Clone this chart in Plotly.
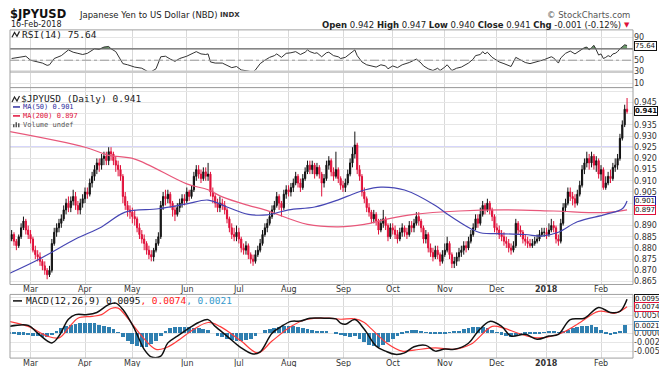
import plotly.graph_objects as go
import pandas as pd

# ---------------- data ----------------
dates = pd.bdate_range('2017-02-16', '2018-02-16')
month_labels = ['Mar', 'Apr', 'May', 'Jun', 'Jul', 'Aug', 'Sep', 'Oct', 'Nov', 'Dec', '2018', 'Feb']

first_open = 0.883
close = [
    0.884, 0.886, 0.883, 0.881, 0.885, 0.889, 0.892, 0.888, 0.886, 0.884,
    0.879, 0.877, 0.876, 0.874, 0.872, 0.870, 0.868, 0.870, 0.882, 0.887,
    0.889, 0.891, 0.893, 0.897, 0.900, 0.898, 0.901, 0.903, 0.899, 0.897,
    0.900, 0.902, 0.905, 0.904, 0.909, 0.912, 0.915, 0.918, 0.917, 0.920,
    0.921, 0.919, 0.923, 0.922, 0.919, 0.917, 0.915, 0.912, 0.903, 0.899,
    0.897, 0.896, 0.894, 0.893, 0.889, 0.886, 0.884, 0.882, 0.879, 0.877,
    0.876, 0.879, 0.882, 0.885, 0.899, 0.903, 0.902, 0.904, 0.900, 0.897,
    0.895, 0.898, 0.900, 0.902, 0.901, 0.905, 0.903, 0.906, 0.912, 0.915,
    0.913, 0.911, 0.914, 0.912, 0.913, 0.905, 0.903, 0.900, 0.898, 0.900,
    0.899, 0.897, 0.893, 0.889, 0.886, 0.885, 0.887, 0.884, 0.880, 0.879,
    0.881, 0.877, 0.875, 0.874, 0.877, 0.879, 0.882, 0.886, 0.889, 0.891,
    0.894, 0.897, 0.899, 0.903, 0.900, 0.898, 0.904, 0.906, 0.905, 0.907,
    0.909, 0.912, 0.909, 0.907, 0.911, 0.914, 0.917, 0.915, 0.917, 0.913,
    0.916, 0.913, 0.909, 0.911, 0.917, 0.919, 0.914, 0.912, 0.915, 0.911,
    0.908, 0.907, 0.909, 0.913, 0.918, 0.922, 0.926, 0.915, 0.912, 0.905,
    0.902, 0.898, 0.896, 0.893, 0.895, 0.892, 0.888, 0.891, 0.893, 0.890,
    0.885, 0.889, 0.888, 0.886, 0.884, 0.887, 0.889, 0.887, 0.886, 0.890,
    0.889, 0.891, 0.894, 0.892, 0.889, 0.884, 0.886, 0.880, 0.878, 0.876,
    0.879, 0.877, 0.874, 0.877, 0.879, 0.882, 0.877, 0.873, 0.874, 0.876,
    0.878, 0.879, 0.881, 0.880, 0.883, 0.886, 0.889, 0.893, 0.891, 0.895,
    0.899, 0.897, 0.900, 0.897, 0.894, 0.889, 0.888, 0.886, 0.885, 0.883,
    0.882, 0.880, 0.879, 0.881, 0.891, 0.888, 0.887, 0.884, 0.883, 0.882,
    0.881, 0.882, 0.883, 0.884, 0.886, 0.887, 0.887, 0.886, 0.888, 0.890,
    0.889, 0.884, 0.883, 0.891, 0.898, 0.900, 0.905, 0.903, 0.902, 0.900,
    0.904, 0.908, 0.915, 0.918, 0.920, 0.918, 0.921, 0.917, 0.919, 0.913,
    0.915, 0.907, 0.909, 0.912, 0.911, 0.916, 0.917, 0.920, 0.929, 0.935,
    0.942, 0.941]
high = [
    0.886, 0.888, 0.887, 0.884, 0.886, 0.891, 0.894, 0.893, 0.890, 0.888,
    0.885, 0.881, 0.879, 0.878, 0.875, 0.874, 0.871, 0.872, 0.884, 0.889,
    0.891, 0.893, 0.895, 0.899, 0.902, 0.903, 0.903, 0.906, 0.905, 0.901,
    0.902, 0.904, 0.907, 0.907, 0.911, 0.914, 0.917, 0.920, 0.920, 0.922,
    0.923, 0.923, 0.925, 0.925, 0.923, 0.921, 0.919, 0.917, 0.913, 0.905,
    0.901, 0.899, 0.898, 0.897, 0.894, 0.891, 0.888, 0.886, 0.883, 0.881,
    0.879, 0.880, 0.884, 0.887, 0.901, 0.905, 0.906, 0.906, 0.905, 0.901,
    0.899, 0.900, 0.902, 0.904, 0.904, 0.907, 0.906, 0.908, 0.914, 0.917,
    0.917, 0.915, 0.916, 0.916, 0.918, 0.914, 0.907, 0.904, 0.902, 0.903,
    0.902, 0.901, 0.898, 0.894, 0.891, 0.889, 0.890, 0.889, 0.885, 0.882,
    0.883, 0.882, 0.878, 0.877, 0.879, 0.881, 0.884, 0.888, 0.891, 0.893,
    0.896, 0.899, 0.901, 0.905, 0.904, 0.901, 0.906, 0.908, 0.908, 0.909,
    0.911, 0.914, 0.913, 0.911, 0.913, 0.916, 0.919, 0.919, 0.919, 0.918,
    0.918, 0.917, 0.914, 0.913, 0.919, 0.921, 0.920, 0.916, 0.923, 0.916,
    0.912, 0.910, 0.911, 0.915, 0.920, 0.925, 0.932, 0.927, 0.917, 0.913,
    0.907, 0.903, 0.900, 0.897, 0.897, 0.896, 0.893, 0.893, 0.897, 0.894,
    0.891, 0.891, 0.891, 0.890, 0.888, 0.889, 0.891, 0.890, 0.889, 0.892,
    0.892, 0.893, 0.896, 0.896, 0.893, 0.890, 0.888, 0.887, 0.882, 0.880,
    0.881, 0.881, 0.878, 0.879, 0.882, 0.885, 0.883, 0.878, 0.876, 0.878,
    0.880, 0.881, 0.883, 0.883, 0.885, 0.888, 0.891, 0.895, 0.895, 0.898,
    0.901, 0.900, 0.902, 0.901, 0.898, 0.895, 0.891, 0.890, 0.888, 0.887,
    0.885, 0.884, 0.882, 0.883, 0.893, 0.892, 0.890, 0.888, 0.886, 0.885,
    0.884, 0.884, 0.885, 0.886, 0.888, 0.889, 0.889, 0.889, 0.891, 0.893,
    0.892, 0.890, 0.886, 0.893, 0.900, 0.902, 0.907, 0.907, 0.905, 0.904,
    0.906, 0.910, 0.917, 0.920, 0.923, 0.922, 0.923, 0.922, 0.921, 0.920,
    0.917, 0.916, 0.912, 0.914, 0.915, 0.918, 0.920, 0.922, 0.931, 0.937,
    0.944, 0.947]
low = [
    0.881, 0.883, 0.881, 0.879, 0.880, 0.884, 0.888, 0.886, 0.884, 0.882,
    0.878, 0.875, 0.874, 0.872, 0.870, 0.868, 0.866, 0.867, 0.869, 0.881,
    0.885, 0.887, 0.889, 0.892, 0.895, 0.896, 0.896, 0.899, 0.897, 0.895,
    0.895, 0.898, 0.900, 0.902, 0.903, 0.907, 0.910, 0.913, 0.914, 0.915,
    0.917, 0.917, 0.917, 0.919, 0.917, 0.914, 0.912, 0.910, 0.900, 0.897,
    0.894, 0.893, 0.891, 0.890, 0.887, 0.884, 0.882, 0.879, 0.877, 0.875,
    0.874, 0.874, 0.878, 0.881, 0.884, 0.897, 0.899, 0.900, 0.898, 0.894,
    0.892, 0.894, 0.896, 0.898, 0.899, 0.900, 0.901, 0.902, 0.905, 0.910,
    0.911, 0.909, 0.910, 0.910, 0.910, 0.903, 0.900, 0.898, 0.896, 0.896,
    0.897, 0.895, 0.891, 0.887, 0.884, 0.883, 0.883, 0.882, 0.878, 0.877,
    0.877, 0.875, 0.873, 0.872, 0.873, 0.876, 0.878, 0.881, 0.885, 0.887,
    0.890, 0.893, 0.895, 0.898, 0.897, 0.894, 0.897, 0.902, 0.903, 0.903,
    0.905, 0.908, 0.907, 0.905, 0.906, 0.910, 0.913, 0.913, 0.913, 0.911,
    0.912, 0.911, 0.903, 0.907, 0.910, 0.915, 0.912, 0.910, 0.911, 0.909,
    0.906, 0.905, 0.905, 0.908, 0.912, 0.916, 0.920, 0.913, 0.910, 0.903,
    0.900, 0.896, 0.894, 0.891, 0.891, 0.890, 0.886, 0.887, 0.889, 0.888,
    0.883, 0.884, 0.886, 0.884, 0.882, 0.883, 0.885, 0.885, 0.884, 0.885,
    0.887, 0.887, 0.890, 0.890, 0.887, 0.882, 0.882, 0.878, 0.876, 0.874,
    0.875, 0.875, 0.872, 0.873, 0.876, 0.878, 0.875, 0.871, 0.871, 0.872,
    0.874, 0.876, 0.877, 0.878, 0.879, 0.882, 0.885, 0.888, 0.889, 0.890,
    0.894, 0.895, 0.896, 0.895, 0.892, 0.887, 0.886, 0.884, 0.883, 0.881,
    0.880, 0.878, 0.877, 0.878, 0.880, 0.886, 0.885, 0.882, 0.881, 0.880,
    0.880, 0.880, 0.881, 0.882, 0.883, 0.885, 0.885, 0.884, 0.885, 0.887,
    0.887, 0.882, 0.881, 0.882, 0.890, 0.896, 0.899, 0.901, 0.899, 0.898,
    0.899, 0.903, 0.907, 0.913, 0.916, 0.915, 0.916, 0.915, 0.914, 0.911,
    0.910, 0.906, 0.906, 0.908, 0.909, 0.910, 0.914, 0.915, 0.919, 0.928,
    0.934, 0.940]

ma50_idx = [0, 13, 28, 39, 49, 63, 75, 84, 92, 101, 109, 118, 129, 139, 145, 150, 157,
            167, 180, 185, 195, 199, 209, 218, 225, 232, 240, 252, 259, 261]
ma50_val = [0.8686, 0.8752, 0.8840, 0.8894, 0.8960, 0.8975, 0.8997, 0.9014, 0.8983, 0.8950,
            0.8948, 0.8970, 0.8983, 0.9015, 0.9040, 0.9059, 0.9072, 0.9059, 0.8990, 0.8952,
            0.8886, 0.8868, 0.8863, 0.8860, 0.8853, 0.8870, 0.8917, 0.8950, 0.8975, 0.9010]

ma200_idx = [0, 32, 42, 53, 75, 84, 90, 101, 108, 126, 139, 150, 160, 171, 190, 209, 230, 252, 261]
ma200_val = [0.9320, 0.9250, 0.9214, 0.9197, 0.9086, 0.9060, 0.9028, 0.8990, 0.8970, 0.8905,
             0.8894, 0.8905, 0.8930, 0.8950, 0.8965, 0.8970, 0.8965, 0.8958, 0.8970]

resistance_level = 0.925

rsi_idx = [1, 4, 7, 9, 12, 14, 16, 17, 19, 22, 25, 27, 29, 31, 33, 36, 38, 40, 42, 43,
           45, 48, 50, 53, 56, 59, 60, 62, 64, 66, 68, 70, 72, 75, 78, 79, 81, 83, 84, 85,
           87, 90, 92, 94, 96, 98, 101, 103, 104, 106, 108, 110, 112, 113, 115, 117, 119, 121, 123, 125,
           126, 127, 129, 130, 132, 134, 135, 137, 139, 140, 142, 144, 146, 147, 149, 151, 153, 155, 157, 159,
           160, 162, 164, 166, 169, 172, 174, 175, 177, 179, 181, 182, 184, 185, 187, 189, 191, 194, 196, 197,
           199, 200, 201, 202, 204, 207, 209, 211, 212, 214, 216, 218, 220, 222, 224, 226, 229, 230, 232, 233,
           235, 237, 239, 240, 242, 243, 244, 245, 246, 247, 248, 249, 250, 251, 252, 253, 254, 255, 256, 257,
           258, 259, 260, 261]
rsi_val = [53, 55, 57, 50, 47, 45, 41, 42, 53, 58, 68, 64, 62, 60, 62, 70, 69, 73, 74, 70,
           65, 44, 42, 38, 36, 29, 30, 35, 56, 57, 52, 48, 53, 57, 63, 65, 61, 60, 61, 47,
           45, 45, 41, 37, 39, 33, 31, 29, 33, 44, 50, 55, 58, 61, 55, 62, 63, 65, 60, 64,
           68, 65, 62, 63, 56, 63, 64, 58, 56, 53, 55, 62, 68, 58, 47, 42, 40, 38, 42, 40,
           35, 40, 37, 42, 46, 52, 45, 40, 35, 32, 36, 32, 38, 42, 32, 36, 38, 45, 52, 58,
           60, 65, 61, 64, 55, 47, 44, 40, 39, 55, 50, 46, 44, 46, 49, 51, 56, 54, 45, 54,
           62, 66, 61, 64, 70, 72, 73, 68, 72, 76, 68, 59, 61, 53, 55, 58, 56, 61, 62, 65,
           70, 73, 77, 75.64]

macd_idx = [0, 8, 12, 18, 21, 25, 28, 33, 37, 42, 45, 48, 53, 57, 60, 64, 67, 71, 75, 80,
            84, 87, 92, 98, 103, 106, 111, 115, 119, 123, 127, 133, 138, 140, 142, 146, 150, 155, 159, 163,
            167, 171, 176, 180, 184, 188, 194, 198, 203, 208, 212, 218, 223, 228, 232, 237, 243, 249, 254, 258,
            261]
macd_val = [0.0019, 0.0022, 0.0000, -0.0027, -0.0008, 0.0039, 0.0052, 0.0052, 0.0058, 0.0080,
            0.0084, 0.0066, 0.0011, -0.0045, -0.0066, -0.0064, -0.0027, -0.0008, 0.0010, 0.0030,
            0.0038, 0.0019, -0.0008, -0.0041, -0.0058, -0.0052, 0.0000, 0.0019, 0.0033, 0.0034,
            0.0042, 0.0042, 0.0040, 0.0028, 0.0025, 0.0038, 0.0011, -0.0036, -0.0050, -0.0059,
            -0.0055, -0.0038, -0.0034, -0.0050, -0.0044, -0.0045, -0.0028, 0.0005, 0.0033, 0.0019,
            -0.0008, -0.0003, -0.0017, -0.0008, -0.0003, 0.0038, 0.0042, 0.0072, 0.0058, 0.0061,
            0.0095]

signal_idx = [0, 8, 16, 21, 25, 29, 35, 39, 43, 46, 50, 56, 62, 66, 71, 78, 84, 89, 98, 105,
              111, 119, 126, 135, 140, 146, 150, 153, 160, 166, 171, 180, 188, 195, 204, 209, 215, 223, 232, 240,
              249, 256, 261]
signal_val = [0.0033, 0.0019, -0.0008, -0.0013, 0.0014, 0.0042, 0.0047, 0.0052, 0.0069, 0.0070,
              0.0042, -0.0008, -0.0045, -0.0041, -0.0022, 0.0011, 0.0030, 0.0019, -0.0022, -0.0055,
              -0.0022, 0.0019, 0.0039, 0.0042, 0.0039, 0.0040, 0.0030, 0.0012, -0.0030, -0.0050,
              -0.0047, -0.0041, -0.0045, -0.0031, 0.0019, 0.0014, 0.0000, -0.0013, -0.0003, 0.0025,
              0.0061, 0.0056, 0.0074]

hist_idx = list(range(0, 261, 2))
hist_val = [
    -0.0004, -0.0004, -0.0005, -0.0005, -0.0006, -0.0008, -0.0009, -0.0011, -0.0012, -0.0006,
    0.0004, 0.0012, 0.0018, 0.0022, 0.0025, 0.0027, 0.0028, 0.0027, 0.0026, 0.0022,
    0.0018, 0.0015, 0.0010, 0.0002, -0.0012, -0.0022, -0.0030, -0.0036, -0.0040, -0.0039,
    -0.0032, -0.0022, -0.0008, 0.0006, 0.0012, 0.0016, 0.0017, 0.0016, 0.0015, 0.0014,
    0.0013, 0.0010, 0.0008, 0.0000, -0.0008, -0.0013, -0.0017, -0.0020, -0.0022, -0.0022,
    -0.0021, -0.0018, -0.0010, 0.0000, 0.0007, 0.0010, 0.0014, 0.0017, 0.0019, 0.0020,
    0.0018, 0.0015, 0.0013, 0.0011, 0.0008, 0.0006, 0.0004, 0.0003, 0.0000, -0.0003,
    -0.0006, -0.0009, -0.0011, -0.0008, -0.0016, -0.0025, -0.0033, -0.0038, -0.0040, -0.0035,
    -0.0026, -0.0016, -0.0008, -0.0002, 0.0004, 0.0007, 0.0008, 0.0006, 0.0001, -0.0002,
    -0.0004, -0.0003, -0.0001, 0.0002, 0.0003, 0.0006, 0.0010, 0.0013, 0.0015, 0.0016,
    0.0016, 0.0014, 0.0008, 0.0002, -0.0005, -0.0009, -0.0011, -0.0008, -0.0006, -0.0004,
    -0.0003, -0.0002, -0.0001, 0.0001, 0.0003, 0.0004, 0.0002, 0.0004, 0.0009, 0.0013,
    0.0015, 0.0018, 0.0020, 0.0021, 0.0017, 0.0008, -0.0003, -0.0006, -0.0003, 0.0006,
    0.0021]

# ---------------- geometry helpers ----------------
W, H = 667, 367
def px(x):
    return x / W
def py(y):
    return 1 - y / H

X0, X1 = 2, 625
RSI_T, RSI_B = 22, 80
PR_T, PR_B = 80, 278
MA_T, MA_B = 288, 352

idx = list(range(len(dates)))
opens = [first_open] + close[:-1]
month_start = [i for i in range(1, len(dates)) if dates[i].month != dates[i - 1].month]

def xi(xpix):
    return (xpix - 1.26) / 2.367
xr = [xi(X0), xi(X1)]

RED = '#e0103a'
FONT = 'DejaVu Sans'
MONO = 'DejaVu Sans Mono'

fig = go.Figure()

# RSI panel
fig.add_trace(go.Scatter(x=[rsi_idx[0], rsi_idx[-1]], y=[70, 70], mode='lines',
                         line=dict(color='rgba(0,0,0,0)', width=0), xaxis='x2', yaxis='y2',
                         showlegend=False, hoverinfo='skip'))
fig.add_trace(go.Scatter(x=rsi_idx, y=[max(v, 70) for v in rsi_val], mode='lines',
                         line=dict(color='rgba(0,0,0,0)', width=0), fill='tonexty',
                         fillcolor='rgba(60,120,60,0.75)', xaxis='x2', yaxis='y2',
                         showlegend=False, hoverinfo='skip'))
fig.add_trace(go.Scatter(x=rsi_idx, y=rsi_val, mode='lines', line=dict(color='#333333', width=1),
                         xaxis='x2', yaxis='y2', showlegend=False))

# price panel
fig.add_trace(go.Scatter(x=ma200_idx, y=ma200_val, mode='lines', line=dict(color='#e8577a', width=1.2, shape='spline'),
                         xaxis='x', yaxis='y', showlegend=False))
fig.add_trace(go.Scatter(x=ma50_idx, y=ma50_val, mode='lines', line=dict(color='#4646b4', width=1.2, shape='spline'),
                         xaxis='x', yaxis='y', showlegend=False))
fig.add_trace(go.Candlestick(x=idx, open=opens, high=high, low=low, close=close,
                             increasing=dict(line=dict(color='#111111', width=1), fillcolor='#111111'),
                             decreasing=dict(line=dict(color=RED, width=1), fillcolor=RED),
                             whiskerwidth=0, xaxis='x', yaxis='y', showlegend=False))

# MACD panel
fig.add_trace(go.Bar(x=hist_idx, y=hist_val, width=1.6, marker=dict(color='#2f7fb0', line=dict(width=0)),
                     xaxis='x3', yaxis='y3', showlegend=False))
fig.add_trace(go.Scatter(x=signal_idx, y=signal_val, mode='lines', line=dict(color='#ff3b3b', width=1.2, shape='spline'),
                         xaxis='x3', yaxis='y3', showlegend=False))
fig.add_trace(go.Scatter(x=macd_idx, y=macd_val, mode='lines', line=dict(color='#111111', width=1.5, shape='spline'),
                         xaxis='x3', yaxis='y3', showlegend=False))

grid = '#e6e6e6'
vgrid = '#d9d9d9'
xcommon = dict(range=xr, domain=[px(X0), px(X1)], showgrid=True, gridcolor=vgrid, gridwidth=1,
               tickmode='array', tickvals=month_start, showticklabels=False, zeroline=False,
               showline=False, ticks='')
tickfont = dict(family=FONT, size=8, color='#333333')

price_ticks = [0.865, 0.870, 0.875, 0.880, 0.885, 0.890, 0.895, 0.900, 0.905, 0.910,
               0.915, 0.920, 0.925, 0.930, 0.935, 0.940, 0.945, 0.950]
price_text = ['%.3f' % v if v not in (0.895, 0.900, 0.940, 0.950) else '' for v in price_ticks]
macd_ticks = [-0.0050, -0.0025, 0.0, 0.0025, 0.0050, 0.0075, 0.0100]
macd_text = ['-0.0050', '-0.0025', '0.0000', '', '0.0050', '', '']

fig.update_layout(
    width=W, height=H, margin=dict(l=0, r=0, t=0, b=0),
    paper_bgcolor='white', plot_bgcolor='white', showlegend=False, hovermode=False,
    bargap=0,
    xaxis=dict(anchor='y', rangeslider=dict(visible=False), **xcommon),
    xaxis2=dict(anchor='y2', **xcommon),
    xaxis3=dict(anchor='y3', **xcommon),
    yaxis=dict(domain=[py(PR_B), py(PR_T)], range=[0.865 + (275 - PR_B) / 2250, 0.865 + (275 - PR_T) / 2250],
               side='right', anchor='x', tickmode='array', tickvals=price_ticks, ticktext=price_text,
               showgrid=True, gridcolor=grid, zeroline=False, tickfont=tickfont, ticks=''),
    yaxis2=dict(domain=[py(RSI_B), py(RSI_T)], range=[(81.25 - RSI_B) / 0.575, (81.25 - RSI_T) / 0.575],
                side='right', anchor='x2', tickmode='array', tickvals=[10, 30, 50, 70, 90],
                ticktext=['10', '30', '50', '', '90'], showgrid=True, gridcolor=grid, zeroline=False,
                tickfont=tickfont, ticks=''),
    yaxis3=dict(domain=[py(MA_B), py(MA_T)], range=[-(MA_B - 327) / 3600, (327 - MA_T) / 3600],
                side='right', anchor='x3', tickmode='array', tickvals=macd_ticks, ticktext=macd_text,
                showgrid=True, gridcolor=grid, zeroline=False, tickfont=tickfont, ticks=''),
)

shapes = []
shapes.append(dict(type='line', xref='paper', yref='y2', x0=px(X0), x1=px(X1), y0=30, y1=30,
                   line=dict(color='#cccccc', width=2.5)))
shapes.append(dict(type='line', xref='paper', yref='y2', x0=px(X0), x1=px(X1), y0=50, y1=50,
                   line=dict(color='#999999', width=1, dash='dashdot')))
shapes.append(dict(type='line', xref='paper', yref='y2', x0=px(X0), x1=px(X1), y0=70, y1=70,
                   line=dict(color='#666666', width=1.2)))
shapes.append(dict(type='line', xref='paper', yref='y', x0=px(X0), x1=px(X1), y0=resistance_level,
                   y1=resistance_level, line=dict(color='#6c6cf0', width=1), layer='below'))
for t, b in [(RSI_T, RSI_B), (PR_T, PR_B), (MA_T, MA_B)]:
    shapes.append(dict(type='rect', xref='paper', yref='paper', x0=px(X0), x1=px(X1), y0=py(b), y1=py(t),
                       line=dict(color='#a0a0a0', width=1)))
shapes.append(dict(type='line', xref='paper', yref='paper', x0=px(5), x1=px(12), y0=py(99.5), y1=py(99.5),
                   line=dict(color='#3030a0', width=1.5)))
shapes.append(dict(type='line', xref='paper', yref='paper', x0=px(5), x1=px(12), y0=py(108.5), y1=py(108.5),
                   line=dict(color=RED, width=1.5)))
for k, hgt in enumerate([3, 5, 4]):
    shapes.append(dict(type='rect', xref='paper', yref='paper', x0=px(5 + 2.5 * k), x1=px(6.5 + 2.5 * k),
                       y0=py(120), y1=py(120 - hgt), line=dict(width=0), fillcolor='#555555'))
shapes.append(dict(type='line', xref='paper', yref='paper', x0=px(5), x1=px(14), y0=py(294.5), y1=py(294.5),
                   line=dict(color='#111111', width=1.5)))
for (gx, gy) in [(4, 26.5), (4, 91.5)]:
    shapes.append(dict(type='path', xref='paper', yref='paper',
                       path='M %f %f L %f %f L %f %f L %f %f' % (px(gx), py(gy + 3), px(gx + 2.5), py(gy - 2),
                                                              px(gx + 5), py(gy + 2), px(gx + 7.5), py(gy - 3)),
                       line=dict(color='#222222', width=1.2)))
fig.update_layout(shapes=shapes)

ann = []
def txt(x, y, s, size=9, color='#222222', family=FONT, anchor='left', yanchor='middle'):
    ann.append(dict(xref='paper', yref='paper', x=px(x), y=py(y), text=s, showarrow=False,
                    xanchor=anchor, yanchor=yanchor, borderpad=0, align='left',
                    font=dict(family=family, size=size, color=color)))

# header
txt(1, 6.5, '<b>$JPYUSD</b>', size=11.5, color='#111111')
txt(70, 7, 'Japanese Yen to US Dollar (NBD)', size=8.5, color='#222222')
txt(211, 7, '<b>INDX</b>', size=7, color='#333333')
txt(623, 7, '© StockCharts.com', size=8.5, color='#555555', anchor='right')
txt(2, 17, '16-Feb-2018', size=8, color='#222222')
txt(614, 17, '<b>Open</b> 0.942 <b>High</b> 0.947 <b>Low</b> 0.940 <b>Close</b> 0.941 '
             '<b>Chg</b> -0.001 (-0.12%)', size=8.5, color='#222222', anchor='right')
txt(615, 17, '▼', size=7, color=RED, anchor='left')

# panel titles
txt(13, 26.5, 'RSI(14) 75.64', size=9.5, color='#222222', family=MONO)
txt(12, 90.5, '$JPYUSD (Daily) 0.941', size=9.5, color='#222222', family=MONO)
txt(14, 95, '<span style="color:#3030a0">MA(50) 0.901</span><br>'
            '<span style="color:%s">MA(200) 0.897</span><br>'
            '<span style="color:#555555">Volume undef</span>' % RED,
    size=7, color='#3030a0', family=MONO, yanchor='top')
txt(17, 294.5, 'MACD(12,26,9) 0.0095<span style="color:#ff2020">, 0.0074</span>'
               '<span style="color:#3399cc">, 0.0021</span>', size=9.5, color='#111111', family=MONO)

# month labels (two rows)
for i, lab in zip(month_start, month_labels):
    s = '<b>%s</b>' % lab if lab == '2018' else lab
    for yrow, xa in [(283.5, 'x'), (357, 'x3')]:
        ann.append(dict(xref=xa, yref='paper', x=i, y=py(yrow), text=s, showarrow=False,
                        xanchor='center', yanchor='middle', borderpad=0,
                        font=dict(family=FONT, size=8, color='#333333')))

def vbox(yref, val, s, color):
    ann.append(dict(xref='paper', yref=yref, x=px(625.5), y=val, text=s,
                    showarrow=False, xanchor='left', yanchor='middle', bgcolor='white', bordercolor=color,
                    borderwidth=1, borderpad=0, font=dict(family=FONT, size=7, color='#111111')))

vbox('y2', rsi_val[-1], '75.64', '#111111')
vbox('y', close[-1], '<b>0.941</b>', '#111111')
vbox('y', ma50_val[-1], '0.901', '#2020a0')
vbox('y', ma200_val[-1], '0.897', RED)
vbox('y3', macd_val[-1], '0.0095', '#111111')
vbox('y3', signal_val[-1], '0.0074', RED)
vbox('y3', hist_val[-1], '0.0021', '#3377aa')

fig.update_layout(annotations=ann)
fig.write_html('out.html')
